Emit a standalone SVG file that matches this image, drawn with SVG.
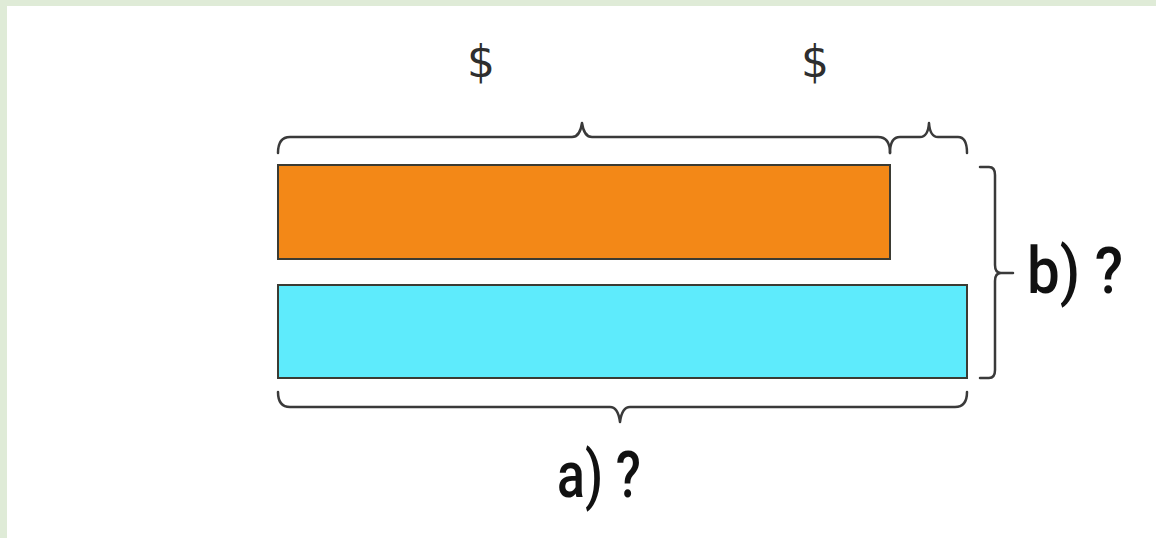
<svg xmlns="http://www.w3.org/2000/svg" width="1156" height="538" viewBox="0 0 1156 538">
<defs>
<style>
.brace{fill:none;stroke:#3a3a3a;stroke-width:2.5;stroke-linecap:round;stroke-linejoin:round}
.bar{stroke:#3b3b33;stroke-width:2}
.dollar{font-family:"DejaVu Sans",sans-serif;font-size:44px;fill:#2e2e2e;text-anchor:middle}
.label{font-family:Roboto,"DejaVu Sans Condensed",sans-serif;font-size:64px;font-weight:500;fill:#111}
</style>
</defs>
<rect x="0" y="0" width="1156" height="538" fill="#dfebd7"/>
<rect x="7" y="6" width="1149" height="532" fill="#ffffff"/>
<g id="bar-orange"><rect class="bar" x="278" y="165" width="612" height="94" fill="#f38817"/></g>
<g id="bar-cyan"><rect class="bar" x="278" y="285" width="689" height="93" fill="#5eebfc"/></g>
<g id="connectors">
<path class="brace" d="M278,153 Q278,137 290,137 L572,137 Q580,137 582,123 Q584,137 592,137 L878,137 Q890,137 890,153"/>
<path class="brace" d="M890,153 Q890,137 900,137 L920,137 Q928,137 929,123 Q930,137 938,137 L958,137 Q967,137 967,153"/>
<path class="brace" d="M980,167 L989,167 Q995,167 995,175 L995,265 Q995,273 1001,273 L1013,273 M1001,273 Q995,273 995,281 L995,370 Q995,378 989,378 L980,378"/>
<path class="brace" d="M278,392 Q278,407 290,407 L610,407 Q618,407 620,422 Q622,407 630,407 L955,407 Q967,407 967,392"/>
</g>
<g id="labels">
<text class="dollar" x="481" y="77">$</text>
<text class="dollar" x="815" y="77">$</text>
<text class="label" x="557" y="497" textLength="84" lengthAdjust="spacingAndGlyphs">a) ?</text>
<text class="label" x="1027" y="293" textLength="96" lengthAdjust="spacingAndGlyphs">b) ?</text>
</g>
</svg>
